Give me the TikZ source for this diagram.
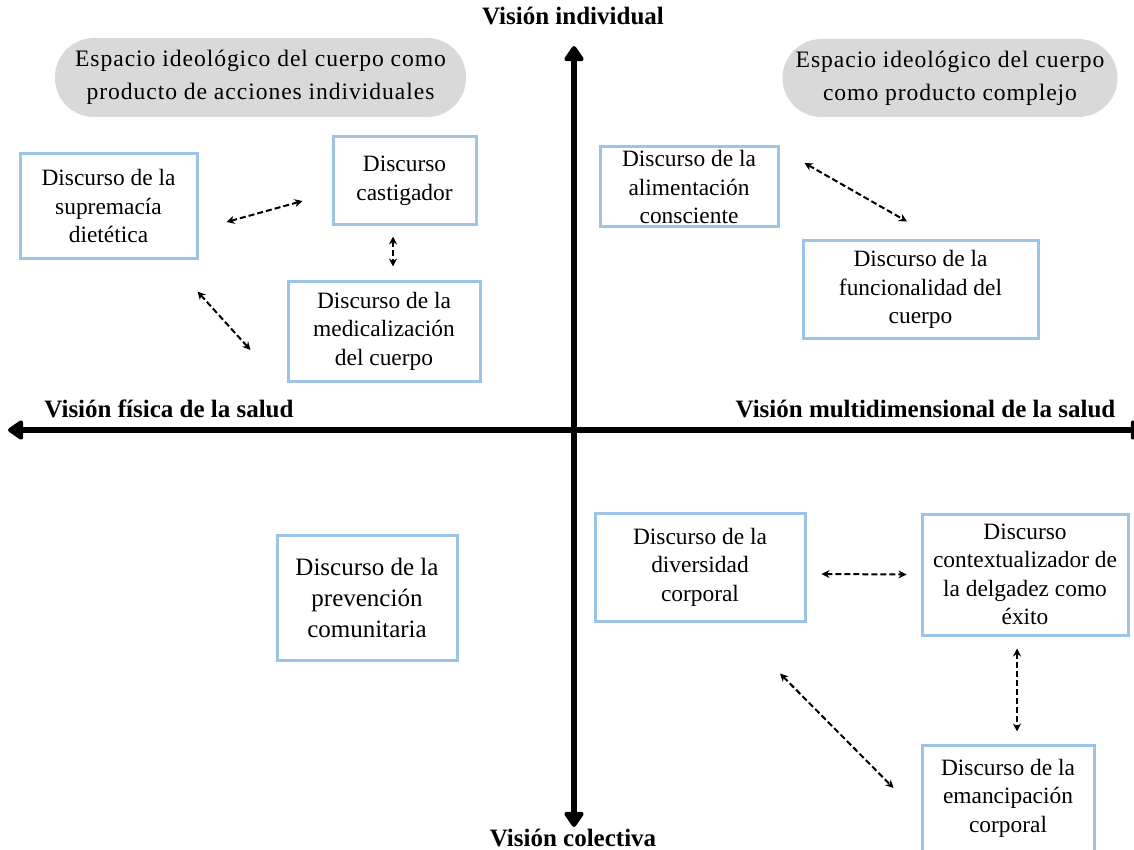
\documentclass[tikz,border=0pt]{standalone}
\usepackage{fontspec}
\setmainfont{Liberation Serif}
\newfontfamily\trackedfont[LetterSpace=4]{Liberation Serif}
\usetikzlibrary{arrows.meta,calc}
\definecolor{boxblue}{RGB}{157,195,230}
\definecolor{pillgray}{RGB}{217,217,217}
\begin{document}
\begin{tikzpicture}[x=1pt,y=-1pt,
 disc/.style={draw=boxblue,line width=3pt,fill=white,align=center,inner sep=0pt,font=\fontsize{23.4}{28.5}\selectfont},
 pill/.style={fill=pillgray,rounded corners=39pt,align=center,inner sep=0pt,font=\trackedfont\fontsize{23.6}{33}\selectfont},
 axlabel/.style={font=\fontsize{25}{30}\selectfont\bfseries},
 axis/.style={line width=5.5pt,{Triangle[width=22pt,length=17pt,round]}-{Triangle[width=22pt,length=17pt,round]}},
 dar/.style={line width=2pt,dash pattern=on 6pt off 3pt,{Stealth[length=8pt,width=8pt]}-{Stealth[length=8pt,width=8pt]}}]
\useasboundingbox (0,0) rectangle (1134,850);
% axes
\coordinate (L) at (8,430);
\coordinate (R) at (1146,430);
\coordinate (T) at (574,46);
\coordinate (B) at (574,827);
\draw[axis] (L) -- (R);
\draw[axis] (T) -- (B);
% axis labels
\node[axlabel] (lt) at (573,16) {Visión individual};
\node[axlabel] (lb) at (573,838) {Visión colectiva};
\node[axlabel] (ll) at (169,409) {Visión física de la salud};
\node[axlabel] (lr) at (925.5,409) {Visión multidimensional de la salud};
% pills
\node[pill,minimum width=411pt,minimum height=79pt] (pL) at (260.5,77.5) {Espacio ideológico del cuerpo como\\producto de acciones individuales};
\node[pill,minimum width=335pt,minimum height=78pt] (pR) at (950,78) {Espacio ideológico del cuerpo\\como producto complejo};
% boxes
\node[disc,minimum width=177pt,minimum height=104pt] (sup) at (108.5,206) {Discurso de la\\supremacía\\dietética};
\node[disc,minimum width=143pt,minimum height=88pt] (cast) at (404.5,181) {Discurso\\castigador};
\node[disc,minimum width=192pt,minimum height=100pt] (med) at (384,331) {Discurso de la\\medicalización\\del cuerpo};
\node[disc,minimum width=178pt,minimum height=80pt] (alim) at (689,187) {Discurso de la\\alimentación\\consciente};
\node[disc,minimum width=235pt,minimum height=97pt] (func) at (920.5,289.5) {Discurso de la\\funcionalidad del\\cuerpo};
\node[disc,minimum width=180pt,minimum height=125pt,font=\fontsize{25}{31}\selectfont] (prev) at (367,597.5) {Discurso de la\\prevención\\comunitaria};
\node[disc,minimum width=210pt,minimum height=108pt] (div) at (700,567) {Discurso de la\\diversidad\\corporal};
\node[disc,minimum width=206pt,minimum height=121pt] (ctx) at (1025,574.5) {Discurso\\contextualizador de\\la delgadez como\\éxito};
\node[disc,minimum width=172pt,minimum height=106pt] (eman) at (1008,798) {Discurso de la\\emancipación\\corporal};
% dashed connectors
\draw[dar] ($(sup.east)+(28,16)$) -- ($(cast.west)+(-29,20)$);
\draw[dar] ($(cast.south)+(-11.5,10)$) -- ($(med.north)+(9,-13)$);
\draw[dar] ($(sup.south east)+(-1,32)$) -- ($(med.west)+(-36,19)$);
\draw[dar] ($(alim.east)+(25,-24)$) -- ($(func.north)+(-13.5,-18)$);
\draw[dar] ($(div.east)+(15,7)$) -- ($(ctx.west)+(-14,0)$);
\draw[dar] ($(ctx.south)+(-8,12)$) -- ($(eman.north)+(9,-12)$);
\draw[dar] ($(div.south)+(80,51)$) -- ($(eman.west)+(-27,-10)$);
\end{tikzpicture}
\end{document}
